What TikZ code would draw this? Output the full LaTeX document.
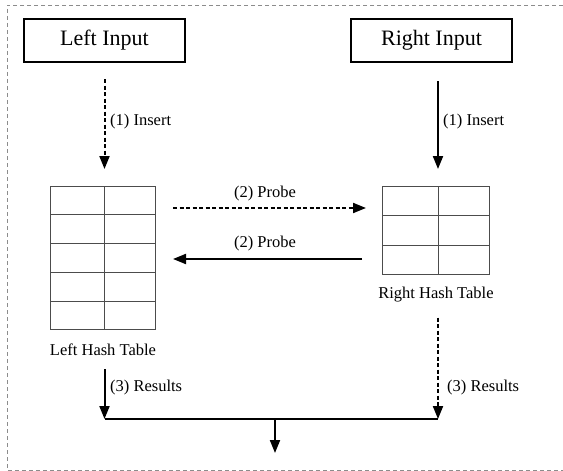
\documentclass[tikz,border=0pt]{standalone}
\usepackage{fontspec}
\setmainfont{Liberation Serif}
\usetikzlibrary{arrows.meta,calc}
\begin{document}
\begin{tikzpicture}[x=1pt,y=-1pt,
  inbox/.style={draw,line width=2pt,minimum width=161pt,minimum height=43pt,
    inner sep=0pt,font=\fontsize{22}{26}\selectfont},
  lbl/.style={font=\fontsize{16.5}{19}\selectfont,inner sep=0pt},
  flow/.style={line width=2pt,-{Triangle[length=13pt,width=10pt]}},
  dots/.style={dash pattern=on 4pt off 2.5pt},
  cellline/.style={draw=black!70,line width=1pt},
  table/.style={cellline,anchor=north west,inner sep=0pt,minimum width=#1}
]
\useasboundingbox (0,0) rectangle (563,471);
% surrounding dashed frame
\draw[black!45,line width=1pt,dash pattern=on 4pt off 3pt]
  (563,5) -- (7,5) -- (7,470) -- (563,470);

% inputs
\node[inbox] (li) at (104.5,40.5) {Left Input};
\node[inbox] (ri) at (431.5,40.5) {Right Input};

% left hash table: 5 rows, 2 columns
\node[table=105pt,minimum height=143pt] (lt) at (50,186) {};
\coordinate (ltm) at (104.5,186);
\draw[cellline] (ltm) -- (ltm |- lt.south);
\foreach \i in {1,...,4}
  \draw[cellline] ($(lt.north west)!\i/5!(lt.south west)$) -- ($(lt.north east)!\i/5!(lt.south east)$);
\node[lbl] (ltl) at (103,350) {Left Hash Table};

% right hash table: 3 rows, 2 columns
\node[table=107pt,minimum height=88pt] (rt) at (382,186) {};
\coordinate (rtm) at (438,186);
\draw[cellline] (rtm) -- (rtm |- rt.south);
\foreach \i in {1,2}
  \draw[cellline] ($(rt.north west)!\i/3!(rt.south west)$) -- ($(rt.north east)!\i/3!(rt.south east)$);
\node[lbl] (rtl) at (436,295) {Right Hash Table};

% (1) insert
\draw[flow,dots,shorten <=16pt,shorten >=17pt] (li.south -| ltm) -- (ltm);
\draw[flow,shorten <=18pt,shorten >=17pt] (ri.south -| rtm) -- (rtm);
\node[lbl,anchor=west] (ins1) at (110,122) {(1) Insert};
\node[lbl,anchor=west] (ins2) at (443,122) {(1) Insert};

% (2) probe
\draw[flow,dots,shorten <=17pt,shorten >=16pt] (lt.east |- 0,208) -- (rt.west |- 0,208);
\draw[flow,shorten <=20pt,shorten >=17pt] (rt.west |- 0,259) -- (lt.east |- 0,259);
\node[lbl] (pr1) at (265,194) {(2) Probe};
\node[lbl] (pr2) at (265,244) {(2) Probe};

% (3) results, merged into one output
\coordinate (jl) at (104.5,419);
\coordinate (jr) at (438,419);
\coordinate (jm) at (275,419);
\coordinate (out) at (275,453);
\draw[flow,shorten <=13pt] (ltl.south -| jl) -- (jl);
\draw[flow,dots,shorten <=15pt] (rtl.south -| jr) -- (jr);
\draw[line width=2pt] (jl) -- (jr);
\draw[flow] (jm) -- (out);
\node[lbl,anchor=west] (res1) at (110,388) {(3) Results};
\node[lbl,anchor=west] (res2) at (447,388) {(3) Results};
\end{tikzpicture}
\end{document}
